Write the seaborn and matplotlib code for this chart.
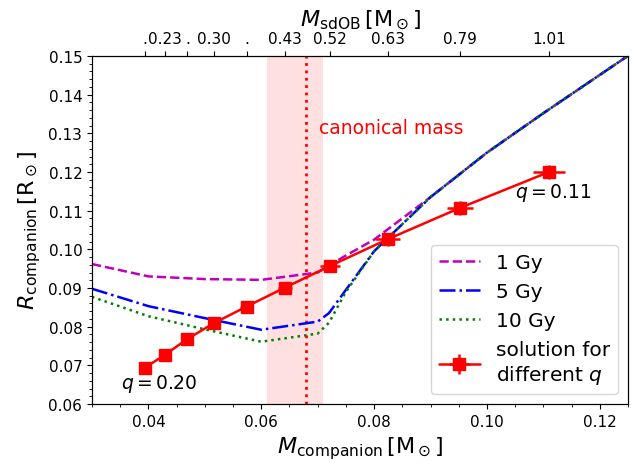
import matplotlib
matplotlib.use("Agg")
from matplotlib import pyplot as plt
from matplotlib.ticker import MultipleLocator
import seaborn as sns
import pandas as pd

# model grid (companion mass) and radii for the three ages
grid_mass = [0.03, 0.04, 0.05, 0.06, 0.07, 0.072, 0.075, 0.08, 0.09, 0.10, 0.11, 0.13]
r_1gy = [0.0962, 0.0930, 0.0923, 0.0921, 0.0940, 0.0958, 0.0984, 0.1025, 0.1135, 0.1250, 0.1352, 0.1550]
r_5gy = [0.0898, 0.0853, 0.0822, 0.0792, 0.0813, 0.0835, 0.0895, 0.0995, 0.1135, 0.1250, 0.1352, 0.1550]
r_10gy = [0.0877, 0.0827, 0.0793, 0.0761, 0.0782, 0.0810, 0.0890, 0.0995, 0.1135, 0.1250, 0.1352, 0.1550]

# solutions for different q
sol_mass = [0.0394, 0.0429, 0.0469, 0.0516, 0.0574, 0.0642, 0.0722, 0.0824, 0.0952, 0.1110]
sol_radius = [0.0694, 0.0727, 0.0768, 0.0809, 0.0852, 0.0901, 0.0957, 0.1026, 0.1107, 0.1200]
sol_mass_err = [0.0006, 0.0007, 0.0008, 0.0011, 0.0012, 0.0013, 0.0018, 0.0022, 0.0023, 0.0028]
sol_radius_err = [0.0010, 0.0011, 0.0012, 0.0013, 0.0014, 0.0015, 0.0016, 0.0017, 0.0017, 0.0018]
sdob_labels = [".", "0.23", ".", "0.30", ".", "0.43", "0.52", "0.63", "0.79", "1.01"]

canonical_mass = 0.068
canonical_range = (0.061, 0.071)

sns.set_style("ticks", {"axes.edgecolor": "black", "xtick.color": "black",
                        "ytick.color": "black", "text.color": "black",
                        "axes.labelcolor": "black"})
plt.rcParams['font.family'] = ['DejaVu Sans']
plt.rcParams['mathtext.fontset'] = 'dejavusans'

df = pd.DataFrame({"mass": grid_mass, "1 Gy": r_1gy, "5 Gy": r_5gy, "10 Gy": r_10gy})

fig, ax = plt.subplots(figsize=(6.41, 4.64), dpi=100)
fig.subplots_adjust(left=0.1435, right=0.9797, top=0.8772, bottom=0.1272)

ax.axvspan(*canonical_range, color="red", alpha=0.12, lw=0)
ax.axvline(canonical_mass, color="red", ls=":", lw=2)

sns.lineplot(x="mass", y="1 Gy", data=df, color="m", ls="--", lw=1.8, label="1 Gy", ax=ax, sort=False)
sns.lineplot(x="mass", y="5 Gy", data=df, color="b", ls="-.", lw=1.8, label="5 Gy", ax=ax, sort=False)
sns.lineplot(x="mass", y="10 Gy", data=df, color="g", ls=":", lw=1.8, label="10 Gy", ax=ax, sort=False)

ax.errorbar(sol_mass, sol_radius, xerr=sol_mass_err, yerr=sol_radius_err,
            color="red", marker="s", ms=8, lw=1.8, capsize=0,
            label="solution for\ndifferent $q$")

ax.text(0.0702, 0.1316, "canonical mass", color="red", fontsize=13.5, va="center")
ax.text(0.0351, 0.0655, "$q = 0.20$", fontsize=13.5, va="center")
ax.text(0.1050, 0.1148, "$q = 0.11$", fontsize=13.5, va="center")

ax.set_xlim(0.03, 0.125)
ax.set_ylim(0.06, 0.15)
ax.xaxis.set_major_locator(MultipleLocator(0.02))
ax.xaxis.set_minor_locator(MultipleLocator(0.005))
ax.yaxis.set_major_locator(MultipleLocator(0.01))
ax.yaxis.set_minor_locator(MultipleLocator(0.002))
ax.tick_params(labelsize=11)
ax.set_xlabel(r"$M_{\rm companion}\,[\rm M_\odot]$", fontsize=16)
ax.set_ylabel(r"$R_{\rm companion}\,[\rm R_\odot]$", fontsize=16)

ax.legend(loc="lower right", fontsize=14.5)

ax2 = ax.twiny()
ax2.set_xlim(ax.get_xlim())
ax2.set_xticks(sol_mass)
ax2.set_xticklabels(sdob_labels)
ax2.tick_params(labelsize=11)
ax2.set_xlabel(r"$M_{\rm sdOB}\,[\rm M_\odot]$", fontsize=16)

fig.savefig("out.png", dpi=100)
